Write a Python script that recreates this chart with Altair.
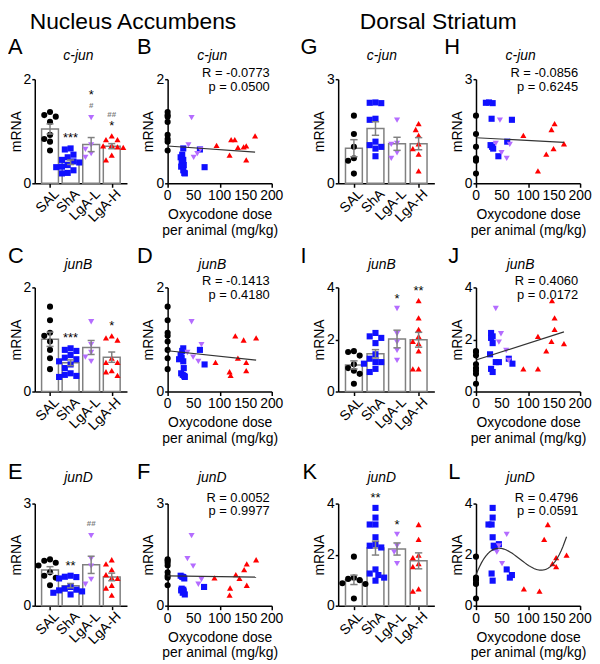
import altair as alt
import pandas as pd
import numpy as np

FONT = "Liberation Sans"
GROUPS = ["SAL", "ShA", "LgA-L", "LgA-H"]
COLORS = ["#000000", "#1010ff", "#b46cff", "#ff0000"]
SHAPES = ["circle", "square", "triangle-down", "triangle-up"]
GRAY = "#808080"
DOSE_TICKS = [0, 50, 100, 150, 200]

# ---------------- data ----------------
# Nucleus accumbens, c-jun (A, B)
nac_cjun_sal = [1.37, 1.31, 1.28, 1.18, 0.93, 0.85, 0.80, 0.63]
nac_cjun_sha = [0.67, 0.65, 0.55, 0.50, 0.45, 0.42, 0.40, 0.35, 0.32, 0.31, 0.25, 0.20, 0.19]
nac_cjun_sha_dose = [30, 62, 28, 25, 30, 27, 29, 31, 26, 71, 30, 32, 33]
nac_cjun_lgal = [1.26, 0.74, 0.50, 0.57, 0.65]
nac_cjun_lgal_dose = [46, 40, 50, 57, 63]
nac_cjun_lgah = [0.73, 0.84, 0.84, 0.54, 0.69, 0.70, 0.72, 0.45, 0.91]
nac_cjun_lgah_dose = [94, 122, 129, 119, 135, 146, 151, 151, 168]

# Nucleus accumbens, junB (C, D)
nac_junb_sal = [1.63, 1.37, 1.13, 1.07, 0.96, 0.80, 0.64, 0.43]
nac_junb_sha = [0.83, 0.80, 0.78, 0.70, 0.65, 0.62, 0.58, 0.52, 0.45, 0.35, 0.32, 0.30, 0.28]
nac_junb_sha_dose = [30, 62, 28, 25, 27, 22, 30, 71, 31, 26, 29, 32, 33]
nac_junb_lgal = [1.34, 0.75, 0.66, 0.58, 0.90]
nac_junb_lgal_dose = [46, 38, 49, 59, 65]
nac_junb_lgah = [0.56, 1.07, 0.99, 0.38, 0.31, 0.64, 0.56, 0.40, 1.03]
nac_junb_lgah_dose = [92, 130, 146, 119, 121, 135, 151, 151, 170]

# Nucleus accumbens, junD (E, F)
nac_jund_sal = [1.36, 1.32, 1.26, 1.18, 0.98, 0.88, 0.82, 0.60]
nac_jund_sha = [0.88, 0.85, 0.84, 0.80, 0.55, 0.50, 0.47, 0.45, 0.42, 0.38, 0.33]
nac_jund_sha_dose = [25, 28, 30, 32, 70, 27, 30, 26, 31, 29, 33]
nac_jund_lgal = [2.06, 1.38, 1.16, 0.77, 0.63]
nac_jund_lgal_dose = [46, 38, 49, 65, 59]
nac_jund_lgah = [0.82, 0.52, 0.31, 0.91, 0.80, 1.06, 1.23, 0.60, 1.35]
nac_jund_lgah_dose = [90, 120, 119, 131, 138, 147, 152, 152, 170]

# Dorsal striatum, c-jun (G, H)
ds_cjun_sal = [1.95, 1.42, 1.05, 0.72, 0.65, 0.28]
ds_cjun_sha = [2.32, 2.33, 2.31, 1.86, 1.83, 1.10, 1.05, 1.00, 1.20, 0.78]
ds_cjun_sha_dose = [19, 25, 32, 30, 69, 28, 31, 33, 60, 43]
ds_cjun_lgal = [1.15, 1.82, 0.88, 0.72, 1.12]
ds_cjun_lgal_dose = [38, 46, 49, 59, 65]
ds_cjun_lgah = [1.38, 0.36, 0.84, 1.55, 1.72, 1.00, 1.14]
ds_cjun_lgah_dose = [91, 119, 135, 145, 151, 149, 169]

# Dorsal striatum, junB (I, J)
ds_junb_sal = [1.55, 1.52, 1.38, 1.05, 0.90, 0.80, 0.68, 0.30]
ds_junb_sha = [2.25, 2.12, 2.06, 1.86, 1.43, 1.26, 1.07, 1.13, 1.13, 0.87, 0.75]
ds_junb_sha_dose = [29, 32, 29, 32, 27, 63, 70, 38, 44, 29, 32]
ds_junb_lgal = [3.19, 2.22, 1.90, 1.58, 1.20]
ds_junb_lgal_dose = [38, 48, 44, 58, 63]
ds_junb_lgah = [0.87, 0.87, 2.12, 1.56, 1.93, 3.49, 2.83, 2.39, 1.84]
ds_junb_lgah_dose = [91, 119, 119, 135, 145, 146, 151, 151, 169]

# Dorsal striatum, junD (K, L)
ds_jund_sal = [1.92, 1.10, 1.05, 1.00, 0.88, 0.85, 0.28]
ds_jund_sha = [3.83, 3.45, 3.18, 3.18, 2.68, 2.41, 2.35, 2.28, 1.42, 1.26, 1.20, 1.10, 0.98]
ds_jund_sha_dose = [32, 32, 24, 30, 32, 44, 34, 36, 59, 30, 69, 65, 32]
ds_jund_lgal = [2.79, 2.34, 2.10, 1.65]
ds_jund_lgal_dose = [59, 44, 40, 50]
ds_jund_lgah = [0.66, 0.57, 2.60, 3.18, 1.65, 1.88, 1.53, 1.98]
ds_jund_lgah_dose = [92, 122, 131, 138, 147, 154, 154, 174]

# correlation statistics printed in the scatter panels
stats_B = ["R = -0.0773", "p =  0.0500"]
stats_D = ["R = -0.1413", "p =  0.4180"]
stats_F = ["R = 0.0052", "p = 0.9977"]
stats_H = ["R = -0.0856", "p =  0.6245"]
stats_J = ["R = 0.4060", "p = 0.0172"]
stats_L = ["R = 0.4796", "p = 0.0591"]

# significance marks (bottom line first)
sig_A = {"ShA": ["***"], "LgA-L": ["#", "*"], "LgA-H": ["*", "##"]}
sig_C = {"ShA": ["***"], "LgA-H": ["*"]}
sig_E = {"ShA": ["**"], "LgA-L": ["##"]}
sig_G = {}
sig_I = {"LgA-L": ["*"], "LgA-H": ["**"]}
sig_K = {"ShA": ["**"], "LgA-L": ["*"]}


def groups_of(sal, sha, sha_d, lgal, lgal_d, lgah, lgah_d):
    return {
        "vals": [sal, sha, lgal, lgah],
        "doses": [[0] * len(sal), sha_d, lgal_d, lgah_d],
    }


# ---------------- helpers ----------------
def swarm(values, px_per_unit, step_px, d=6.5):
    vals = np.array(values, dtype=float)
    order = np.argsort(-vals)
    cands = [0.0]
    for k in range(1, 10):
        cands += [-k * d / 2, k * d / 2]
    placed = []
    offs = [0.0] * len(vals)
    for i in order:
        ypx = vals[i] * px_per_unit
        chosen = cands[-1]
        for c in cands:
            if all((c - px) ** 2 + (ypx - py) ** 2 >= d * d for px, py in placed):
                chosen = c
                break
        placed.append((chosen, ypx))
        offs[i] = chosen / step_px
    return offs


def txt(t, x, y, size, align="left", style="normal", color="black", weight="normal"):
    return alt.Chart(pd.DataFrame({"t": [t]})).mark_text(
        align=align, baseline="alphabetic", fontSize=size, fontStyle=style,
        font=FONT, color=color, fontWeight=weight
    ).encode(text="t:N", x=alt.value(x), y=alt.value(y))


color_enc = alt.Color("name:N", scale=alt.Scale(domain=GROUPS, range=COLORS), legend=None)
shape_enc = alt.Shape("name:N", scale=alt.Scale(domain=GROUPS, range=SHAPES), legend=None)


def y_axis(ticks):
    return alt.Axis(values=ticks, format="d", title="mRNA", grid=False, tickSize=3,
                    labelPadding=1, titlePadding=0, domainWidth=1.5, tickWidth=1.5)


SIG_DY = {("star", 0): -6, ("star", 1): -19, ("hash", 0): -10, ("hash", 1): -19}


def bar_panel(data, ymax, yticks, sig, letter, lx, gene, width, height, title=None, gene_y=-19):
    rows = []
    for gi, g in enumerate(GROUPS):
        vals = data["vals"][gi]
        offs = swarm(vals, height / ymax, width / 4.0)
        for v, o in zip(vals, offs):
            rows.append({"idx": gi, "name": g, "value": v, "xj": gi + o})
    df = pd.DataFrame(rows)
    xs = alt.Scale(domain=[-0.5, 3.5], nice=False, zero=False)
    ys = alt.Scale(domain=[0, ymax], nice=False, zero=True)
    xaxis = alt.Axis(values=[0, 1, 2, 3], labels=False, grid=False, title=None,
                     tickSize=4, domainWidth=1.5, tickWidth=1.5)
    base = alt.Chart(df)
    stats = base.transform_aggregate(
        m="mean(value)", se="stderr(value)", groupby=["idx"]
    ).transform_calculate(
        lo="datum.m - datum.se", hi="datum.m + datum.se",
        xl="datum.idx - 0.17", xr="datum.idx + 0.17"
    )
    bars = stats.mark_bar(fill="white", stroke=GRAY, strokeWidth=1.5, width=17, orient="vertical").encode(
        x=alt.X("idx:Q", scale=xs, axis=xaxis),
        y=alt.Y("m:Q", scale=ys, axis=y_axis(yticks)),
    )
    pts = base.mark_point(filled=True, size=38, opacity=1, strokeWidth=0).encode(
        x="xj:Q", y="value:Q", color=color_enc, shape=shape_enc
    )
    err = stats.mark_rule(color=GRAY, strokeWidth=1.5).encode(x="idx:Q", y="lo:Q", y2="hi:Q")
    cap_hi = stats.mark_rule(color=GRAY, strokeWidth=1.5).encode(x="xl:Q", x2="xr:Q", y="hi:Q")
    cap_lo = stats.mark_rule(color=GRAY, strokeWidth=1.5).encode(x="xl:Q", x2="xr:Q", y="lo:Q")
    # category labels, placed through the x scale
    cat = alt.Chart(pd.DataFrame({"idx": list(range(len(GROUPS))), "lab": GROUPS})).mark_text(
        angle=315, align="right", baseline="top", fontSize=14, font=FONT, color="black", dx=3
    ).encode(x="idx:Q", y=alt.value(height + 6), text="lab:N")
    layers = [bars, pts, err, cap_hi, cap_lo, cat]

    # significance marks
    for k in (0, 1):
        for kind in ("star", "hash"):
            srows = []
            for g, lines in sig.items():
                if k < len(lines):
                    t = lines[k]
                    is_hash = t.startswith("#")
                    if (kind == "hash") == is_hash:
                        gi = GROUPS.index(g)
                        srows.append({"idx": gi, "ymax": max(data["vals"][gi]), "t": t})
            if not srows:
                continue
            if kind == "star":
                mk = alt.Chart(pd.DataFrame(srows)).mark_text(
                    font=FONT, fontSize=13, color="black", baseline="alphabetic",
                    dy=SIG_DY[(kind, k)])
            else:
                mk = alt.Chart(pd.DataFrame(srows)).mark_text(
                    font=FONT, fontSize=8, color=GRAY, fontWeight="bold", baseline="alphabetic",
                    dy=SIG_DY[(kind, k)])
            layers.append(mk.encode(x="idx:Q", y="ymax:Q", text="t:N"))

    layers.append(txt(letter, lx, -25, 22))
    layers.append(txt(gene, 44, gene_y, 14, align="center", style="italic"))
    if title:
        layers.append(txt(title[0], title[1], -51, 23, align="center"))
    return alt.layer(*layers).properties(width=width, height=height)


def scatter_panel(data, ymax, yticks, stats_txt, letter, lx, gene, width, height,
                  poly=False, gene_y=-19):
    rows = []
    for gi, g in enumerate(GROUPS):
        for d, v in zip(data["doses"][gi], data["vals"][gi]):
            rows.append({"name": g, "dose": d, "value": v})
    df = pd.DataFrame(rows)
    xs = alt.Scale(domain=[0, 200], nice=False, zero=False)
    ys = alt.Scale(domain=[0, ymax], nice=False, zero=True)
    xaxis = alt.Axis(values=DOSE_TICKS, labels=False, title=["Oxycodone dose", "per animal (mg/kg)"],
                     grid=False, tickSize=4, titlePadding=20, titleLineHeight=16,
                     domainWidth=1.5, tickWidth=1.5)
    base = alt.Chart(df)
    pts = base.mark_point(filled=True, size=38, opacity=1, strokeWidth=0).encode(
        x=alt.X("dose:Q", scale=xs, axis=xaxis),
        y=alt.Y("value:Q", scale=ys, axis=y_axis(yticks)),
        color=color_enc, shape=shape_enc,
    )
    if poly:
        fit = base.transform_regression("dose", "value", method="poly", order=3)
    else:
        fit = base.transform_regression("dose", "value", method="linear")
    fit = fit.mark_line(color="#333333", strokeWidth=1.2).encode(x="dose:Q", y="value:Q")
    ticklab = alt.Chart(pd.DataFrame({"v": DOSE_TICKS})).mark_text(
        baseline="top", align="center", fontSize=14, font=FONT, color="black"
    ).encode(x="v:Q", y=alt.value(height + 6), text=alt.Text("v:Q", format="d"))
    layers = [pts, fit, ticklab,
              txt(letter, lx, -25, 22),
              txt(gene, 45, gene_y, 14, align="center", style="italic"),
              txt(stats_txt[0], width - 2, -2, 13, align="right"),
              txt(stats_txt[1], width - 2, 12, 13, align="right")]
    return alt.layer(*layers).properties(width=width, height=height)


def spacer(w, h):
    return alt.Chart(pd.DataFrame({"v": [0]})).mark_point(opacity=0, size=0).encode(
        x=alt.value(0), y=alt.value(0)).properties(width=w, height=h)


# ---------------- panels ----------------
dA = groups_of(nac_cjun_sal, nac_cjun_sha, nac_cjun_sha_dose, nac_cjun_lgal, nac_cjun_lgal_dose,
               nac_cjun_lgah, nac_cjun_lgah_dose)
dC = groups_of(nac_junb_sal, nac_junb_sha, nac_junb_sha_dose, nac_junb_lgal, nac_junb_lgal_dose,
               nac_junb_lgah, nac_junb_lgah_dose)
dE = groups_of(nac_jund_sal, nac_jund_sha, nac_jund_sha_dose, nac_jund_lgal, nac_jund_lgal_dose,
               nac_jund_lgah, nac_jund_lgah_dose)
dG = groups_of(ds_cjun_sal, ds_cjun_sha, ds_cjun_sha_dose, ds_cjun_lgal, ds_cjun_lgal_dose,
               ds_cjun_lgah, ds_cjun_lgah_dose)
dI = groups_of(ds_junb_sal, ds_junb_sha, ds_junb_sha_dose, ds_junb_lgal, ds_junb_lgal_dose,
               ds_junb_lgah, ds_junb_lgah_dose)
dK = groups_of(ds_jund_sal, ds_jund_sha, ds_jund_sha_dose, ds_jund_lgal, ds_jund_lgal_dose,
               ds_jund_lgah, ds_jund_lgah_dose)

WB, WS = 93, 105
WB2 = 97
H1, H3 = 105, 103

pA = bar_panel(dA, 2, [0, 1, 2], sig_A, "A", -27, "c-jun", WB, H1, title=("Nucleus Accumbens", 99))
pB = scatter_panel(dA, 2, [0, 1, 2], stats_B, "B", -31, "c-jun", WS, H1)
pC = bar_panel(dC, 2, [0, 1, 2], sig_C, "C", -27, "junB", WB, H1)
pD = scatter_panel(dC, 2, [0, 1, 2], stats_D, "D", -31, "junB", WS, H1)
pE = bar_panel(dE, 3, [0, 1, 2, 3], sig_E, "E", -27, "junD", WB, H3, gene_y=-22)
pF = scatter_panel(dE, 3, [0, 1, 2, 3], stats_F, "F", -31, "junD", WS, H3, gene_y=-22)

pG = bar_panel(dG, 3, [0, 1, 2, 3], sig_G, "G", -38, "c-jun", WB2, H1, title=("Dorsal Striatum", 101))
pH = scatter_panel(dG, 3, [0, 1, 2, 3], stats_H, "H", -32, "c-jun", WS, H1)
pI = bar_panel(dI, 4, [0, 2, 4], sig_I, "I", -38, "junB", WB2, H1)
pJ = scatter_panel(dI, 4, [0, 2, 4], stats_J, "J", -28, "junB", WS, H1)
pK = bar_panel(dK, 4, [0, 2, 4], sig_K, "K", -36, "junD", WB2, H3, gene_y=-22)
pL = scatter_panel(dK, 4, [0, 2, 4], stats_L, "L", -28, "junD", WS, H3, poly=True, gene_y=-22)

# layout gaps (px between plot areas)
GAP_AB, GAP_BG, GAP_GH = 41, 67, 42
GAP_R1, GAP_R2 = 105, 113


def panel_row(a, b, g, h):
    return [a, spacer(GAP_AB, 1), b, spacer(GAP_BG, 1), g, spacer(GAP_GH, 1), h]


def gap_row(hgt):
    return [spacer(1, hgt)] + [spacer(1, 1) for _ in range(6)]


cells = (panel_row(pA, pB, pG, pH) + gap_row(GAP_R1) +
         panel_row(pC, pD, pI, pJ) + gap_row(GAP_R2) +
         panel_row(pE, pF, pK, pL))

chart = alt.concat(*cells, columns=7, spacing=0, bounds="flush").properties(
    padding=0
).configure_axis(
    labelFont=FONT, titleFont=FONT, labelFontSize=14, titleFontSize=14,
    titleFontWeight="normal", labelColor="black", titleColor="black",
    domainColor="black", tickColor="black",
).configure_view(stroke=None)

chart.save("out.html", embed_options={"renderer": "svg", "actions": False})
